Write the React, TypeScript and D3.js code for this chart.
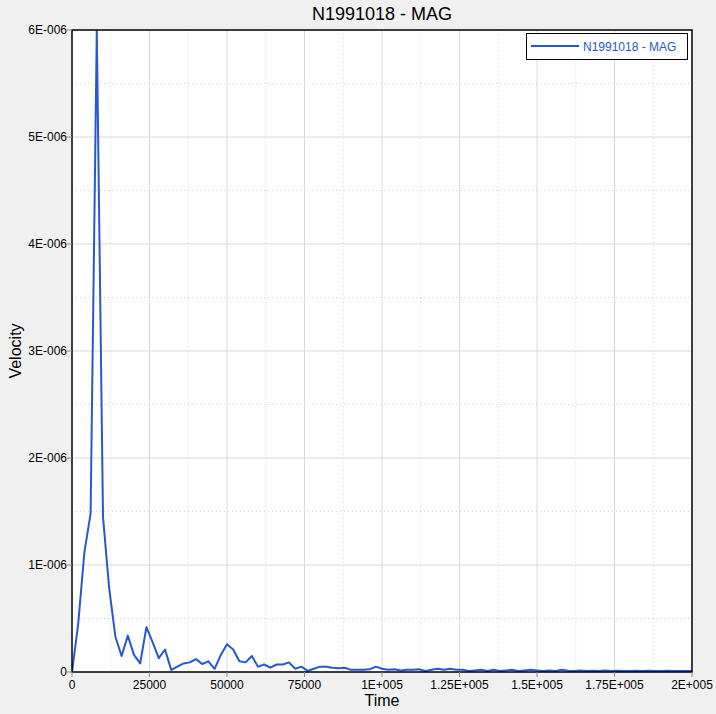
import React from "react";
import * as d3 from "d3";

const TITLE = "N1991018 - MAG";
const SERIES_NAME = "N1991018 - MAG";
const X_LABEL = "Time";
const Y_LABEL = "Velocity";

const TIMES = [
  0, 2000, 4000, 6000, 8000, 10000, 12000, 14000, 16000, 18000,
  20000, 22000, 24000, 26000, 28000, 30000, 32000, 34000, 36000, 38000,
  40000, 42000, 44000, 46000, 48000, 50000, 52000, 54000, 56000, 58000,
  60000, 62000, 64000, 66000, 68000, 70000, 72000, 74000, 76000, 78000,
  80000, 82000, 84000, 86000, 88000, 90000, 92000, 94000, 96000, 98000,
  100000, 102000, 104000, 106000, 108000, 110000, 112000, 114000, 116000, 118000,
  120000, 122000, 124000, 126000, 128000, 130000, 132000, 134000, 136000, 138000,
  140000, 142000, 144000, 146000, 148000, 150000, 152000, 154000, 156000, 158000,
  160000, 162000, 164000, 166000, 168000, 170000, 172000, 174000, 176000, 178000,
  180000, 182000, 184000, 186000, 188000, 190000, 192000, 194000, 196000, 198000,
  200000,
];

// velocity in units of 1e-6
const VELOCITY_E6 = [
  0, 0.45, 1.12, 1.48, 5.99, 1.45, 0.78, 0.33, 0.15, 0.34,
  0.16, 0.08, 0.42, 0.28, 0.13, 0.21, 0.02, 0.05, 0.08, 0.09,
  0.12, 0.075, 0.1, 0.03, 0.16, 0.26, 0.21, 0.1, 0.09, 0.15,
  0.05, 0.07, 0.04, 0.07, 0.07, 0.09, 0.03, 0.05, 0.01, 0.03,
  0.05, 0.05, 0.04, 0.035, 0.04, 0.02, 0.02, 0.02, 0.025, 0.05,
  0.03, 0.02, 0.025, 0.015, 0.02, 0.02, 0.025, 0.01, 0.02, 0.03,
  0.02, 0.03, 0.02, 0.02, 0.01, 0.015, 0.02, 0.01, 0.02, 0.01,
  0.015, 0.02, 0.01, 0.015, 0.02, 0.015, 0.01, 0.015, 0.01, 0.02,
  0.012, 0.01, 0.015, 0.01, 0.012, 0.01, 0.015, 0.01, 0.012, 0.01,
  0.01, 0.012, 0.01, 0.012, 0.01, 0.01, 0.012, 0.01, 0.01, 0.01,
  0.01,
];

const X_TICKS = [0, 25000, 50000, 75000, 100000, 125000, 150000, 175000, 200000];
const X_TICK_LABELS = ["0", "25000", "50000", "75000", "1E+005", "1.25E+005", "1.5E+005", "1.75E+005", "2E+005"];
const Y_TICKS = [0, 1e-6, 2e-6, 3e-6, 4e-6, 5e-6, 6e-6];
const Y_TICK_LABELS = ["0", "1E-006", "2E-006", "3E-006", "4E-006", "5E-006", "6E-006"];

const W = 716;
const H = 714;
const M = { left: 72, top: 30, right: 692, bottom: 672 };
const FONT = "'Liberation Sans', Arial, sans-serif";
const LINE_COLOR = "#2657d4";

export default function App() {
  const x = d3.scaleLinear().domain([0, 200000]).range([M.left, M.right]);
  const y = d3.scaleLinear().domain([0, 6e-6]).range([M.bottom, M.top]);

  const data = TIMES.map((t, i) => ({ t, v: VELOCITY_E6[i] * 1e-6 }));
  const line = d3
    .line<{ t: number; v: number }>()
    .x((d) => x(d.t))
    .y((d) => y(d.v));

  const xMinor = X_TICKS.slice(0, -1).map((t, i) => (t + X_TICKS[i + 1]) / 2);
  const yMinor = Y_TICKS.slice(0, -1).map((t, i) => (t + Y_TICKS[i + 1]) / 2);

  return (
    <svg
      width={W}
      height={H}
      style={{ position: "absolute", left: 0, top: 0, background: "#f0f0f0" }}
      fontFamily={FONT}
    >
      <rect x={0} y={0} width={W} height={H} fill="#f0f0f0" />
      <rect x={M.left} y={M.top} width={M.right - M.left} height={M.bottom - M.top} fill="#ffffff" />
      <defs>
        <clipPath id="plotclip">
          <rect x={M.left} y={M.top} width={M.right - M.left} height={M.bottom - M.top} />
        </clipPath>
      </defs>
      {/* minor grid */}
      {xMinor.map((t) => (
        <line key={"xm" + t} x1={x(t)} x2={x(t)} y1={M.top} y2={M.bottom} stroke="#cfcfcf" strokeWidth={1} strokeDasharray="1,3" />
      ))}
      {yMinor.map((t) => (
        <line key={"ym" + t} x1={M.left} x2={M.right} y1={y(t)} y2={y(t)} stroke="#cfcfcf" strokeWidth={1} strokeDasharray="1,3" />
      ))}
      {/* major grid */}
      {X_TICKS.slice(1, -1).map((t) => (
        <line key={"xg" + t} x1={x(t)} x2={x(t)} y1={M.top} y2={M.bottom} stroke="#d9d9d9" strokeWidth={1} />
      ))}
      {Y_TICKS.slice(1, -1).map((t) => (
        <line key={"yg" + t} x1={M.left} x2={M.right} y1={y(t)} y2={y(t)} stroke="#d9d9d9" strokeWidth={1} />
      ))}
      {/* data line */}
      <path d={line(data) || ""} fill="none" stroke={LINE_COLOR} strokeWidth={2} strokeLinejoin="round" clipPath="url(#plotclip)" />
      {/* frame */}
      <rect x={M.left} y={M.top} width={M.right - M.left} height={M.bottom - M.top} fill="none" stroke="#000" strokeWidth={1.5} />
      {/* x ticks */}
      {X_TICKS.map((t, i) => (
        <g key={"xt" + t}>
          <line x1={x(t)} x2={x(t)} y1={M.bottom} y2={M.bottom + 5} stroke="#888" />
          <text x={x(t)} y={M.bottom + 17} fontSize={12} textAnchor="middle" fill="#000">
            {X_TICK_LABELS[i]}
          </text>
        </g>
      ))}
      {/* y ticks */}
      {Y_TICKS.map((t, i) => (
        <g key={"yt" + t}>
          <line x1={M.left - 5} x2={M.left} y1={y(t)} y2={y(t)} stroke="#888" />
          <text x={M.left - 5} y={y(t) + 4} fontSize={12} textAnchor="end" fill="#000">
            {Y_TICK_LABELS[i]}
          </text>
        </g>
      ))}
      {/* title & labels */}
      <text x={(M.left + M.right) / 2} y={20} fontSize={18} textAnchor="middle" fill="#000">
        {TITLE}
      </text>
      <text x={(M.left + M.right) / 2} y={706} fontSize={16} textAnchor="middle" fill="#000">
        {X_LABEL}
      </text>
      <text transform={`translate(21, ${(M.top + M.bottom) / 2}) rotate(-90)`} fontSize={16} textAnchor="middle" fill="#000">
        {Y_LABEL}
      </text>
      {/* legend */}
      <rect x={526.5} y={33.5} width={161} height={26} fill="#fff" stroke="#000" strokeWidth={1} />
      <line x1={531} x2={579} y1={46} y2={46} stroke={LINE_COLOR} strokeWidth={2} />
      <text x={583} y={51} fontSize={12} fill={LINE_COLOR}>
        {SERIES_NAME}
      </text>
    </svg>
  );
}
